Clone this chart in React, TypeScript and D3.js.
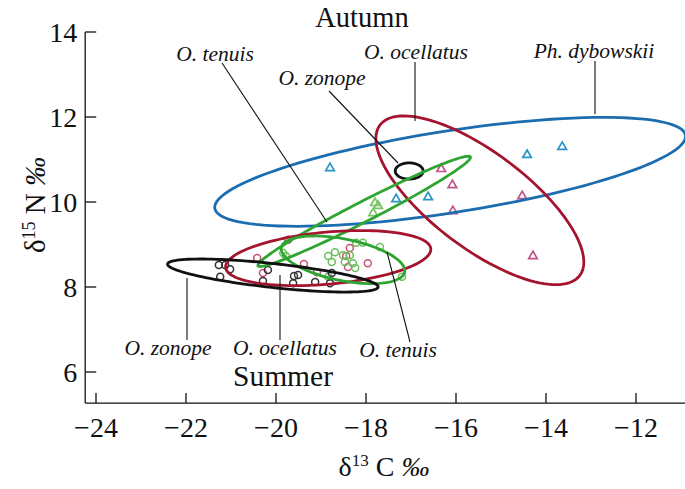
import React from 'react';
import * as d3 from 'd3';

const xTicks = [-24, -22, -20, -18, -16, -14, -12];
const yTicks = [6, 8, 10, 12, 14];
const xAxisStart = -24.24;
const yAxisStart = 5.27;

// Ellipses: centre and two conjugate semi-axis vectors, in data units (δ13C, δ15N)
const ellDybowskiiAutumn = [-16.13, 10.71, 5.23, 0.86, 0.14, -0.95];
const ellOcellatusAutumn = [-15.47, 10.04, 2.22, -1.77, -0.64, -0.90];
const ellZonopeAutumn = [-17.04, 10.73, 0.31, 0, 0, 0.19];
const ellTenuisAutumn = [-18.04, 9.78, 2.36, 1.28, 0.10, -0.21];
const ellTenuisSummer = [-18.51, 8.64, 1.37, -0.29, -0.09, -0.48];
const ellOcellatusSummer = [-18.84, 8.68, 2.28, 0.22, 0.05, -0.61];
const ellZonopeSummer = [-20.07, 8.27, 2.34, -0.27, -0.03, -0.28];

// Autumn points (triangles)
const dybowskiiAutumn = [[-18.8, 10.82], [-17.33, 10.09], [-16.62, 10.14], [-14.42, 11.13], [-13.64, 11.32]];
const ocellatusAutumn = [[-16.08, 10.42], [-16.07, 9.81], [-14.53, 10.16], [-14.29, 8.75], [-16.33, 10.8]];
const tenuisAutumn = [[-17.8, 10.0], [-17.73, 9.93], [-17.84, 9.76]];

// Summer points (circles)
const zonopeSummer = [[-21.27, 8.52], [-21.13, 8.52], [-21.02, 8.42], [-21.24, 8.24], [-20.18, 8.4], [-20.29, 8.14],
  [-19.6, 8.26], [-19.51, 8.28], [-19.62, 8.09], [-19.13, 8.12], [-18.76, 8.33], [-18.8, 8.09]];
const ocellatusSummer = [[-19.73, 9.11], [-20.42, 8.68], [-20.29, 8.33], [-19.38, 8.54], [-19.09, 8.35],
  [-18.44, 8.73], [-18.36, 8.92], [-18.4, 8.47], [-17.96, 8.56]];
const tenuisSummer = [[-19.84, 8.8], [-19.78, 8.73], [-18.69, 8.82], [-18.84, 8.73], [-18.76, 8.59], [-18.51, 8.75],
  [-18.36, 8.75], [-18.47, 8.59], [-18.29, 8.56], [-18.24, 8.45], [-18.07, 9.04], [-18.22, 9.04], [-17.69, 8.94],
  [-18.84, 8.24], [-17.2, 8.24]];

const W = 685;
const H = 489;
const SERIF = '"Liberation Serif", "DejaVu Serif", serif';

export default function App() {
  const x = d3.scaleLinear().domain([-24, -12]).range([96, 636]);
  const y = d3.scaleLinear().domain([6, 14]).range([372, 32]);
  const x0 = x(xAxisStart);
  const y0 = y(yAxisStart);

  const ellipsePath = (e: number[]) => {
    const [cx, cy, ux, uy, vx, vy] = e;
    const pts = d3.range(0, 121).map((i) => {
      const t = (i / 120) * Math.PI * 2;
      return [x(cx + ux * Math.cos(t) + vx * Math.sin(t)), y(cy + uy * Math.cos(t) + vy * Math.sin(t))] as [number, number];
    });
    return d3.line().curve(d3.curveLinearClosed)(pts) || '';
  };

  const tri = d3.symbol(d3.symbolTriangle, 32)() || '';

  const triangles = (pts: number[][], color: string, key: string) =>
    pts.map((p, i) => (
      <path key={key + i} d={tri} transform={`translate(${x(p[0])},${y(p[1]) + 1})`} fill="none" stroke={color} strokeWidth={1.7} />
    ));
  const circles = (pts: number[][], color: string, key: string) =>
    pts.map((p, i) => (
      <circle key={key + i} cx={x(p[0])} cy={y(p[1])} r={3.5} fill="none" stroke={color} strokeWidth={1.5} />
    ));

  const BLUE = '#1b6db0';
  const RED = '#a5142f';
  const GREEN = '#2fa531';
  const BLACK = '#111';

  const labelStyle: React.CSSProperties = { fontFamily: SERIF, fontStyle: 'italic', fontSize: 21.5 };

  return (
    <svg width={W} height={H} style={{ position: 'absolute', left: 0, top: 0, background: '#fff' }}>
      {/* points */}
      {circles(ocellatusSummer, '#c4537a', 'os')}
      {circles(tenuisSummer, '#6cbf5c', 'ts')}
      {circles(zonopeSummer, '#333', 'zs')}
      {triangles(dybowskiiAutumn, '#2b95c8', 'da')}
      {triangles(ocellatusAutumn, '#c0538a', 'oa')}
      {triangles(tenuisAutumn, '#7cc46a', 'ta')}

      {/* ellipses */}
      <g fill="none" strokeWidth={2.8}>
        <path d={ellipsePath(ellDybowskiiAutumn)} stroke={BLUE} />
        <path d={ellipsePath(ellOcellatusAutumn)} stroke={RED} />
        <path d={ellipsePath(ellZonopeAutumn)} stroke={BLACK} />
        <path d={ellipsePath(ellTenuisAutumn)} stroke={GREEN} />
        <path d={ellipsePath(ellOcellatusSummer)} stroke={RED} />
        <path d={ellipsePath(ellTenuisSummer)} stroke={GREEN} />
        <path d={ellipsePath(ellZonopeSummer)} stroke={BLACK} />
      </g>

      {/* leader lines */}
      <g stroke="#111" strokeWidth={1.1}>
        <line x1={222} y1={63} x2={327} y2={222} />
        <line x1={329} y1={91} x2={398} y2={163} />
        <line x1={415} y1={62} x2={415} y2={121} />
        <line x1={595} y1={61} x2={595} y2={114} />
        <line x1={187} y1={278} x2={187} y2={340} />
        <line x1={280} y1={275} x2={280} y2={340} />
        <line x1={387} y1={252} x2={410} y2={342} />
      </g>

      {/* axes */}
      <g stroke="#111" strokeWidth={1.3}>
        <line x1={x0} y1={y(14)} x2={x0} y2={y0} />
        <line x1={x0} y1={y0} x2={W} y2={y0} />
        {xTicks.map((t) => <line key={'xt' + t} x1={x(t)} x2={x(t)} y1={y0} y2={y0 - 10} />)}
        {yTicks.map((t) => <line key={'yt' + t} x1={x0} x2={x0 + 11} y1={y(t)} y2={y(t)} />)}
      </g>
      <g fontFamily={SERIF} fontSize={28} fill="#111">
        {xTicks.map((t) => (
          <text key={'xl' + t} x={x(t)} y={y0 + 34} textAnchor="middle">{'\u2212' + Math.abs(t)}</text>
        ))}
        {yTicks.map((t) => (
          <text key={'yl' + t} x={x0 - 8} y={y(t) + 10} textAnchor="end">{t}</text>
        ))}
      </g>

      {/* axis titles */}
      <text x={384} y={476} textAnchor="middle" fontFamily={SERIF} fontSize={28} fill="#111">
        δ<tspan dy={-10} fontSize={17}>13</tspan><tspan dy={10}> C </tspan><tspan fontStyle="italic">‰</tspan>
      </text>
      <text transform="translate(45,205) rotate(-90)" textAnchor="middle" fontFamily={SERIF} fontSize={29} fill="#111">
        δ<tspan dy={-10} fontSize={18}>15</tspan><tspan dy={10}> N </tspan><tspan fontStyle="italic">‰</tspan>
      </text>

      {/* season titles */}
      <text x={362} y={27} textAnchor="middle" fontFamily={SERIF} fontSize={28.5} fill="#111">Autumn</text>
      <text x={283} y={386} textAnchor="middle" fontFamily={SERIF} fontSize={29.5} fill="#111">Summer</text>

      {/* species labels */}
      <g style={labelStyle} fill="#111">
        <text x={215} y={61} textAnchor="middle">O. tenuis</text>
        <text x={322} y={85} textAnchor="middle">O. zonope</text>
        <text x={416} y={59} textAnchor="middle">O. ocellatus</text>
        <text x={594} y={58} textAnchor="middle">Ph. dybowskii</text>
        <text x={168} y={355} textAnchor="middle">O. zonope</text>
        <text x={285} y={355} textAnchor="middle">O. ocellatus</text>
        <text x={398} y={357} textAnchor="middle">O. tenuis</text>
      </g>
    </svg>
  );
}
